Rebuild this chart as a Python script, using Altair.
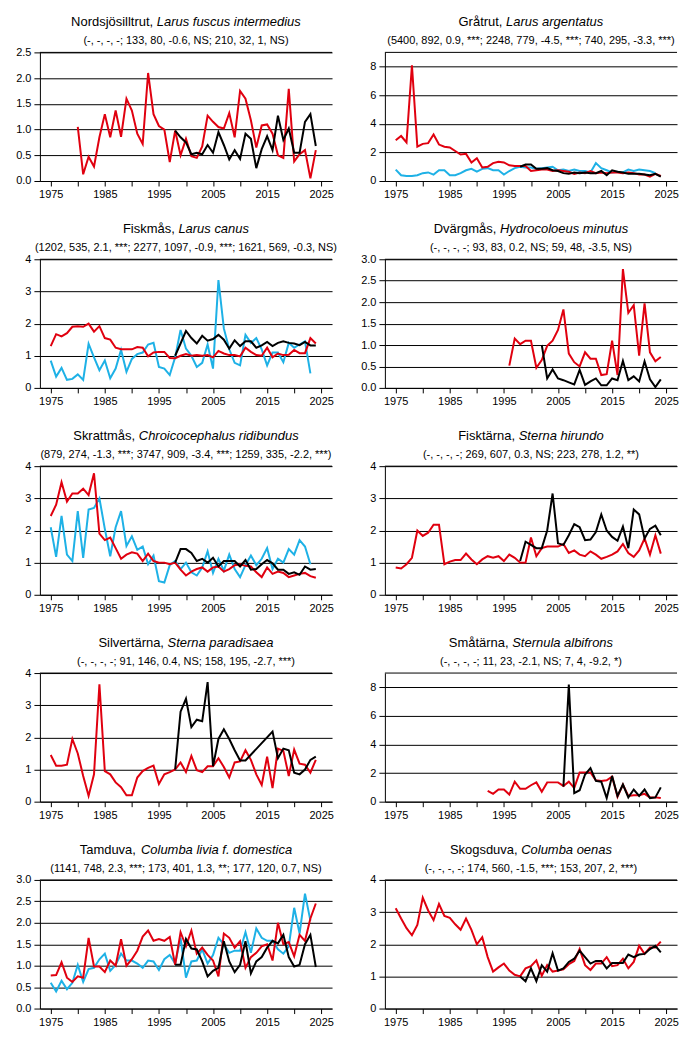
import altair as alt
import pandas as pd

# ------------------------------------------------------------------ data
# Nordsjösilltrut
nordsjo_red_start = 1980
nordsjo_red = [1.05, 0.13, 0.47, 0.28, 0.85, 1.3, 0.85, 1.37, 0.86, 1.6,
               1.37, 0.92, 0.72, 2.1, 1.3, 1.07, 1.0, 0.37, 0.98, 0.5,
               0.82, 0.48, 0.45, 0.67, 1.27, 1.15, 1.05, 1.02, 1.32, 0.85,
               1.75, 1.6, 1.18, 0.65, 1.08, 1.1, 0.92, 0.5, 0.45, 1.79,
               0.38, 0.52, 0.6, 0.05, 0.6]
nordsjo_black_start = 1998
nordsjo_black = [0.98, 0.85, 0.75, 0.52, 0.55, 0.52, 0.7, 0.55, 0.95, 0.7,
                 0.42, 0.6, 0.43, 0.92, 0.82, 0.25, 0.62, 0.87, 0.6, 1.27,
                 0.8, 1.02, 0.55, 0.55, 1.15, 1.3, 0.68]

# Gråtrut
gratrut_red_start = 1975
gratrut_red = [2.85, 3.15, 2.7, 8.1, 2.4, 2.6, 2.65, 3.25, 2.55, 2.4,
               2.35, 2.1, 1.85, 1.9, 1.3, 1.6, 0.95, 1.0, 1.25, 1.35,
               1.3, 1.1, 1.05, 1.05, 1.05, 0.7, 0.75, 0.8, 0.8, 0.7,
               0.75, 0.7, 0.65, 0.5, 0.6, 0.55, 0.7, 0.55, 0.6, 0.55,
               0.6, 0.6, 0.55, 0.6, 0.55, 0.45, 0.45, 0.3, 0.5, 0.35]
gratrut_cyan_start = 1975
gratrut_cyan = [0.8, 0.4, 0.35, 0.35, 0.4, 0.55, 0.6, 0.45, 0.75, 0.75,
                0.4, 0.4, 0.55, 0.75, 0.85, 0.65, 0.85, 0.9, 0.75, 0.75,
                0.45, 0.7, 0.9, 1.0, 0.95, 0.95, 0.85, 0.9, 0.95, 1.0,
                0.75, 0.8, 0.7, 0.8, 0.7, 0.7, 0.6, 1.25, 0.9, 0.75,
                0.6, 0.65, 0.6, 0.8, 0.7, 0.8, 0.75, 0.7, 0.55]
gratrut_black_start = 1998
gratrut_black = [1.0, 1.15, 1.15, 0.85, 0.85, 0.9, 0.75, 0.7, 0.55, 0.5,
                 0.6, 0.55, 0.6, 0.55, 0.55, 0.7, 0.4, 0.75, 0.65, 0.6,
                 0.5, 0.5, 0.5, 0.45, 0.4, 0.5, 0.3]

# Fiskmås
fiskmas_red_start = 1975
fiskmas_red = [1.3, 1.67, 1.6, 1.7, 1.9, 1.92, 1.9, 2.0, 1.75, 1.92,
               1.55, 1.5, 1.25, 1.2, 1.2, 1.2, 1.27, 1.25, 0.98, 1.1,
               1.12, 1.12, 0.93, 0.92, 1.0, 1.05, 1.0, 1.02, 1.0, 1.02,
               0.95, 1.15, 1.07, 1.02, 1.02, 0.98, 1.25, 1.12, 1.02, 1.0,
               1.25, 0.95, 1.07, 1.02, 1.03, 1.18, 1.08, 1.08, 1.55, 1.38]
fiskmas_cyan_start = 1975
fiskmas_cyan = [0.85, 0.35, 0.62, 0.25, 0.28, 0.42, 0.25, 1.37, 0.95, 0.55,
                0.85, 0.3, 0.6, 1.18, 0.5, 0.9, 1.05, 1.1, 1.35, 1.4,
                0.65, 0.6, 0.4, 0.95, 1.8, 1.22, 1.0, 0.65, 0.78, 1.35,
                0.6, 3.35, 1.85, 1.2, 0.78, 0.7, 1.65, 1.4, 1.55, 1.2,
                0.7, 1.1, 1.1, 0.8, 1.4, 1.25, 1.35, 1.45, 0.45]
fiskmas_black_start = 1998
fiskmas_black = [1.0, 1.38, 1.77, 1.55, 1.38, 1.62, 1.47, 1.52, 1.65, 1.5,
                 1.22, 1.48, 1.3, 1.45, 1.45, 1.25, 1.32, 1.43, 1.3, 1.4,
                 1.45, 1.4, 1.38, 1.33, 1.43, 1.32, 1.32]

# Dvärgmås
dvargmas_red_start = 1996
dvargmas_red = [0.52, 1.15, 1.02, 1.1, 1.1, 0.47, 0.65, 0.98, 1.1, 1.35,
                1.83, 0.8, 0.6, 0.5, 0.83, 0.68, 0.68, 0.3, 0.32, 1.1,
                0.3, 2.77, 1.75, 1.93, 0.75, 1.97, 0.83, 0.62, 0.72]
dvargmas_black_start = 2002
dvargmas_black = [1.0, 0.22, 0.43, 0.22, 0.18, 0.13, 0.08, 0.42, 0.07, 0.15,
                  0.22, 0.06, 0.06, 0.22, 0.18, 0.63, 0.18, 0.27, 0.15, 0.62,
                  0.2, 0.02, 0.2]

# Skrattmås
skrattmas_red_start = 1975
skrattmas_red = [2.45, 2.8, 3.5, 2.9, 3.15, 3.15, 3.3, 3.1, 3.78, 1.9,
                 1.7, 1.78, 1.45, 1.12, 1.25, 1.32, 1.28, 1.05, 1.28, 1.05,
                 1.0, 1.0, 0.95, 1.0, 0.78, 0.6, 0.72, 0.8, 0.85, 0.72,
                 0.85, 0.88, 0.72, 0.8, 0.92, 0.95, 0.9, 0.88, 0.7, 0.55,
                 0.85, 0.65, 0.72, 0.68, 0.55, 0.6, 0.65, 0.68, 0.58, 0.53]
skrattmas_cyan_start = 1975
skrattmas_cyan = [2.1, 1.18, 2.45, 1.25, 1.05, 2.6, 1.15, 2.65, 2.7, 3.0,
                  2.05, 1.2, 2.1, 2.6, 1.52, 1.82, 1.4, 1.5, 0.95, 1.22,
                  0.42, 0.38, 0.92, 1.05, 0.8, 1.0, 0.7, 0.6, 0.85, 1.35,
                  0.68, 1.12, 0.75, 1.25, 0.8, 0.55, 0.92, 1.22, 0.92, 1.12,
                  1.45, 0.8, 1.12, 1.0, 1.42, 1.25, 1.7, 1.5, 0.95]
skrattmas_black_start = 1998
skrattmas_black = [1.0, 1.42, 1.42, 1.3, 1.05, 1.12, 1.0, 1.15, 0.88, 1.05,
                   1.05, 1.05, 0.88, 1.08, 0.78, 0.8, 0.95, 1.08, 0.98, 0.78,
                   0.78, 0.65, 0.7, 0.62, 0.88, 0.78, 0.8]

# Fisktärna
fisktarna_red_start = 1975
fisktarna_red = [0.85, 0.82, 0.95, 1.15, 2.0, 1.83, 1.93, 2.18, 2.18, 0.95,
                 1.03, 1.08, 1.08, 1.28, 1.1, 0.95, 1.1, 1.2, 1.15, 1.2,
                 1.05, 1.25, 1.15, 1.0, 1.0, 1.78, 1.2, 1.45, 1.5, 1.5,
                 1.5, 1.58, 1.3, 1.38, 1.25, 1.2, 1.35, 1.25, 1.12, 1.18,
                 1.25, 1.35, 1.58, 1.3, 1.18, 1.38, 1.75, 1.25, 1.85, 1.28]
fisktarna_black_start = 1998
fisktarna_black = [1.05, 1.65, 1.55, 1.45, 1.45, 2.0, 3.15, 1.6, 1.55, 1.85,
                   2.2, 2.1, 1.7, 1.72, 1.95, 2.5, 2.0, 1.8, 1.68, 2.12,
                   1.45, 2.65, 2.5, 1.75, 2.05, 2.15, 1.85]

# Silvertärna
silver_red_start = 1975
silver_red = [1.45, 1.12, 1.12, 1.15, 1.95, 1.5, 0.8, 0.18, 0.85, 3.65,
              0.95, 0.85, 0.6, 0.45, 0.2, 0.2, 0.75, 0.95, 1.05, 1.12,
              0.55, 0.85, 0.92, 1.0, 1.22, 0.92, 1.42, 0.98, 0.92, 1.1,
              1.1, 1.35, 1.08, 0.75, 1.22, 1.25, 1.6, 1.3, 0.85, 0.52,
              1.4, 0.42, 1.65, 1.58, 0.8, 1.62, 1.18, 1.15, 0.9, 1.3]
silver_black_start = 1998
silver_black = [1.0, 2.8, 3.2, 2.32, 2.55, 2.5, 3.72, 1.1, 1.95, 2.25,
                1.95, 1.6, 1.28, 1.28, None, None, None, None, 2.18, 1.35,
                1.65, 1.6, 0.9, 0.85, 1.0, 1.3, 1.4]

# Småtärna
smatarna_red_start = 1992
smatarna_red = [0.75, 0.55, 0.85, 0.85, 0.5, 1.4, 0.9, 0.9, 1.15, 1.35,
                0.7, 1.35, 1.35, 1.35, 1.1, 1.4, 0.95, 2.05, 2.05, 2.05,
                1.5, 1.45, 1.5, 1.75, 0.35, 1.2, 0.4, 0.45, 0.45, 0.55,
                0.3, 0.3, 0.25]
smatarna_black_start = 2006
smatarna_black = [1.05, 8.2, 0.6, 0.8, 1.9, 2.35, 1.45, 1.4, 0.25, 1.8,
                  0.4, 1.2, 0.3, 0.85, 0.4, 0.85, 0.25, 0.3, 1.0]

# Tamduva
tamduva_red_start = 1975
tamduva_red = [0.77, 0.78, 1.08, 0.72, 0.62, 0.75, 0.72, 1.65, 0.98, 0.98,
               0.85, 1.12, 1.0, 1.62, 1.0, 1.15, 1.35, 1.68, 1.82, 1.58,
               1.62, 1.58, 1.67, 1.02, 1.78, 1.45, 1.82, 1.28, 1.42, 1.25,
               1.12, 0.75, 1.75, 1.65, 1.42, 1.57, 0.95, 1.2, 1.3, 1.45,
               1.5, 1.12, 2.0, 1.5, 1.55, 1.22, 1.72, 1.58, 2.1, 2.45]
tamduva_cyan_start = 1975
tamduva_cyan = [0.6, 0.4, 0.65, 0.45, 0.6, 1.02, 0.62, 0.92, 0.95, 1.15,
                1.28, 0.88, 1.02, 1.28, 1.12, 1.12, 1.05, 0.95, 1.12, 1.1,
                0.9, 1.15, 1.25, 1.05, 1.65, 0.72, 1.1, 1.12, 1.38, 1.05,
                1.25, 1.65, 1.5, 1.3, 1.35, 1.35, 1.78, 1.3, 1.87, 1.65,
                1.58, 1.58, 1.38, 1.28, 1.45, 2.35, 1.75, 2.68, 2.05]
tamduva_black_start = 1998
tamduva_black = [1.02, 1.02, 1.62, 1.4, 1.38, 1.1, 0.75, 0.88, 0.95, 1.57,
                 1.1, 0.85, 1.02, 1.57, 0.82, 1.1, 1.2, 1.42, 1.58, 1.52,
                 1.72, 1.2, 0.98, 1.02, 1.5, 1.72, 0.97]

# Skogsduva
skogsduva_red_start = 1975
skogsduva_red = [3.12, 2.8, 2.5, 2.28, 2.6, 3.45, 3.05, 2.75, 3.25, 2.88,
                 2.82, 2.62, 2.45, 2.8, 2.45, 2.0, 2.22, 1.6, 1.15, 1.28,
                 1.4, 1.18, 1.05, 1.0, 1.25, 1.32, 1.5, 1.02, 1.35, 1.15,
                 1.18, 1.22, 1.38, 1.48, 1.85, 1.35, 1.2, 1.4, 1.4, 1.6,
                 1.32, 1.35, 1.55, 1.25, 1.45, 1.95, 1.7, 1.9, 1.9, 2.08]
skogsduva_black_start = 1998
skogsduva_black = [1.0, 0.85, 1.25, 0.85, 1.35, 1.15, 1.72, 1.18, 1.25, 1.45,
                   1.55, 1.8, 1.6, 1.4, 1.48, 1.48, 1.25, 1.42, 1.42, 1.42,
                   1.68, 1.6, 1.68, 1.7, 1.85, 1.95, 1.75]

common_names = ["Nordsjösilltrut", "Gråtrut", "Fiskmås", "Dvärgmås", "Skrattmås",
                "Fisktärna", "Silvertärna", "Småtärna", "Tamduva", "Skogsduva"]
latin_names = ["Larus fuscus intermedius", "Larus argentatus", "Larus canus",
               "Hydrocoloeus minutus", "Chroicocephalus ridibundus", "Sterna hirundo",
               "Sterna paradisaea", "Sternula albifrons", "Columba livia f. domestica",
               "Columba oenas"]
stats_lines = [
    "(-, -, -, -; 133, 80, -0.6, NS; 210, 32, 1, NS)",
    "(5400, 892, 0.9, ***; 2248, 779, -4.5, ***; 740, 295, -3.3, ***)",
    "(1202, 535, 2.1, ***; 2277, 1097, -0.9, ***; 1621, 569, -0.3, NS)",
    "(-, -, -, -; 93, 83, 0.2, NS; 59, 48, -3.5, NS)",
    "(879, 274, -1.3, ***; 3747, 909, -3.4, ***; 1259, 335, -2.2, ***)",
    "(-, -, -, -; 269, 607, 0.3, NS; 223, 278, 1.2, **)",
    "(-, -, -, -; 91, 146, 0.4, NS; 158, 195, -2.7, ***)",
    "(-, -, -, -; 11, 23, -2.1, NS; 7, 4, -9.2, *)",
    "(1141, 748, 2.3, ***; 173, 401, 1.3, **; 177, 120, 0.7, NS)",
    "(-, -, -, -; 174, 560, -1.5, ***; 153, 207, 2, ***)",
]
y_max = [2.5, 9, 4, 3, 4, 4, 4, 9, 3, 4]
y_ticks = [[0, 0.5, 1, 1.5, 2, 2.5], [0, 2, 4, 6, 8], [0, 1, 2, 3, 4],
           [0, 0.5, 1, 1.5, 2, 2.5, 3], [0, 1, 2, 3, 4], [0, 1, 2, 3, 4],
           [0, 1, 2, 3, 4], [0, 2, 4, 6, 8], [0, 0.5, 1, 1.5, 2, 2.5, 3],
           [0, 1, 2, 3, 4]]
y_formats = [".1f", "d", "d", ".1f", "d", "d", "d", "d", ".1f", "d"]
x_ticks = [1975, 1980, 1985, 1990, 1995, 2000, 2005, 2010, 2015, 2020, 2025]

series_cyan = [None, (gratrut_cyan_start, gratrut_cyan), (fiskmas_cyan_start, fiskmas_cyan),
               None, (skrattmas_cyan_start, skrattmas_cyan), None, None, None,
               (tamduva_cyan_start, tamduva_cyan), None]
series_red = [(nordsjo_red_start, nordsjo_red), (gratrut_red_start, gratrut_red),
              (fiskmas_red_start, fiskmas_red), (dvargmas_red_start, dvargmas_red),
              (skrattmas_red_start, skrattmas_red), (fisktarna_red_start, fisktarna_red),
              (silver_red_start, silver_red), (smatarna_red_start, smatarna_red),
              (tamduva_red_start, tamduva_red), (skogsduva_red_start, skogsduva_red)]
series_black = [(nordsjo_black_start, nordsjo_black), (gratrut_black_start, gratrut_black),
                (fiskmas_black_start, fiskmas_black), (dvargmas_black_start, dvargmas_black),
                (skrattmas_black_start, skrattmas_black), (fisktarna_black_start, fisktarna_black),
                (silver_black_start, silver_black), (smatarna_black_start, smatarna_black),
                (tamduva_black_start, tamduva_black), (skogsduva_black_start, skogsduva_black)]

# ------------------------------------------------------------------ style
FONT = "Liberation Sans"
RED = "#E0000F"
CYAN = "#1EB1E6"
BLACK = "#000000"
W, H = 293, 129

CHAR_W = {
    'a': 556, 'b': 556, 'c': 500, 'd': 556, 'e': 556, 'f': 278, 'g': 556, 'h': 556,
    'i': 222, 'j': 222, 'k': 500, 'l': 222, 'm': 833, 'n': 556, 'o': 556, 'p': 556,
    'q': 556, 'r': 333, 's': 500, 't': 278, 'u': 556, 'v': 500, 'w': 722, 'x': 500,
    'y': 500, 'z': 500, 'å': 556, 'ä': 556, 'ö': 556,
    'A': 667, 'B': 667, 'C': 722, 'D': 722, 'E': 667, 'F': 611, 'G': 778, 'H': 722,
    'I': 278, 'J': 500, 'K': 667, 'L': 556, 'M': 833, 'N': 722, 'O': 778, 'P': 667,
    'Q': 778, 'R': 722, 'S': 667, 'T': 611, 'U': 722, 'V': 667, 'W': 944, 'X': 667,
    'Y': 667, 'Z': 611, ' ': 278, ',': 278, '.': 278, '-': 333, '(': 333, ')': 333,
    ';': 278, '*': 389,
}


def text_width(s, size):
    return sum(CHAR_W.get(ch, 556) for ch in s) * size / 1000.0


def series_df(spec):
    start, vals = spec
    rows = [{"year": start + i, "v": v} for i, v in enumerate(vals) if v is not None]
    return pd.DataFrame(rows)


def make_panel(i):
    x_enc = alt.X("year:Q",
                  scale=alt.Scale(domain=[1973, 2027], nice=False, zero=False),
                  axis=alt.Axis(values=x_ticks, format="d", grid=False, title=None,
                                labelExpr="datum.value % 10 == 5 ? datum.label : ''",
                                tickSize=5, labelPadding=3, labelFlush=False,
                                labelOverlap=False))
    y_enc = alt.Y("v:Q",
                  scale=alt.Scale(domain=[0, y_max[i]], nice=False, zero=True),
                  axis=alt.Axis(values=y_ticks[i], format=y_formats[i], grid=True,
                                title=None, tickSize=6, labelPadding=3,
                                labelOverlap=False))
    layers = []
    for spec, col in ((series_cyan[i], CYAN), (series_red[i], RED), (series_black[i], BLACK)):
        if spec is None:
            continue
        layers.append(
            alt.Chart(series_df(spec)).mark_line(color=col, strokeWidth=2, clip=True)
            .encode(x=x_enc, y=y_enc)
        )
    # top border of plot area
    layers.append(
        alt.Chart(alt.Data(values=[{"k": 0}])).mark_rule(color="black", strokeWidth=1)
        .encode(x=alt.value(0), x2=alt.value(W), y=alt.value(0))
    )
    # title: regular + italic parts, centred together
    reg = common_names[i] + ", "
    ita = latin_names[i]
    wr = text_width(reg, 13)
    wi = text_width(ita, 13)
    x0 = W / 2.0 - (wr + wi) / 2.0
    layers.append(
        alt.Chart(alt.Data(values=[{"t": common_names[i] + ","}]))
        .mark_text(font=FONT, fontSize=13, align="left", baseline="middle", color="black")
        .encode(text="t:N", x=alt.value(x0), y=alt.value(-30))
    )
    layers.append(
        alt.Chart(alt.Data(values=[{"t": ita}]))
        .mark_text(font=FONT, fontSize=13, fontStyle="italic", align="left",
                   baseline="middle", color="black")
        .encode(text="t:N", x=alt.value(x0 + wr), y=alt.value(-30))
    )
    layers.append(
        alt.Chart(alt.Data(values=[{"t": stats_lines[i]}]))
        .mark_text(font=FONT, fontSize=11, align="center", baseline="middle", color="black")
        .encode(text="t:N", x=alt.value(W / 2.0), y=alt.value(-11))
    )
    return alt.layer(*layers).properties(width=W, height=H)


panels = [make_panel(i) for i in range(10)]

chart = (
    alt.concat(*panels, columns=2, spacing={"row": 78.5, "column": 53}, bounds="flush")
    .properties(padding={"left": 7, "top": 7, "right": 5, "bottom": 5})
    .configure_view(strokeWidth=0)
    .configure_axis(labelFont=FONT, labelFontSize=11, labelColor="black",
                    domainColor="black", tickColor="black", gridColor="black",
                    gridWidth=1, domainWidth=1, tickWidth=1)
)

chart.save("out.html", embed_options={"renderer": "svg", "actions": False})
